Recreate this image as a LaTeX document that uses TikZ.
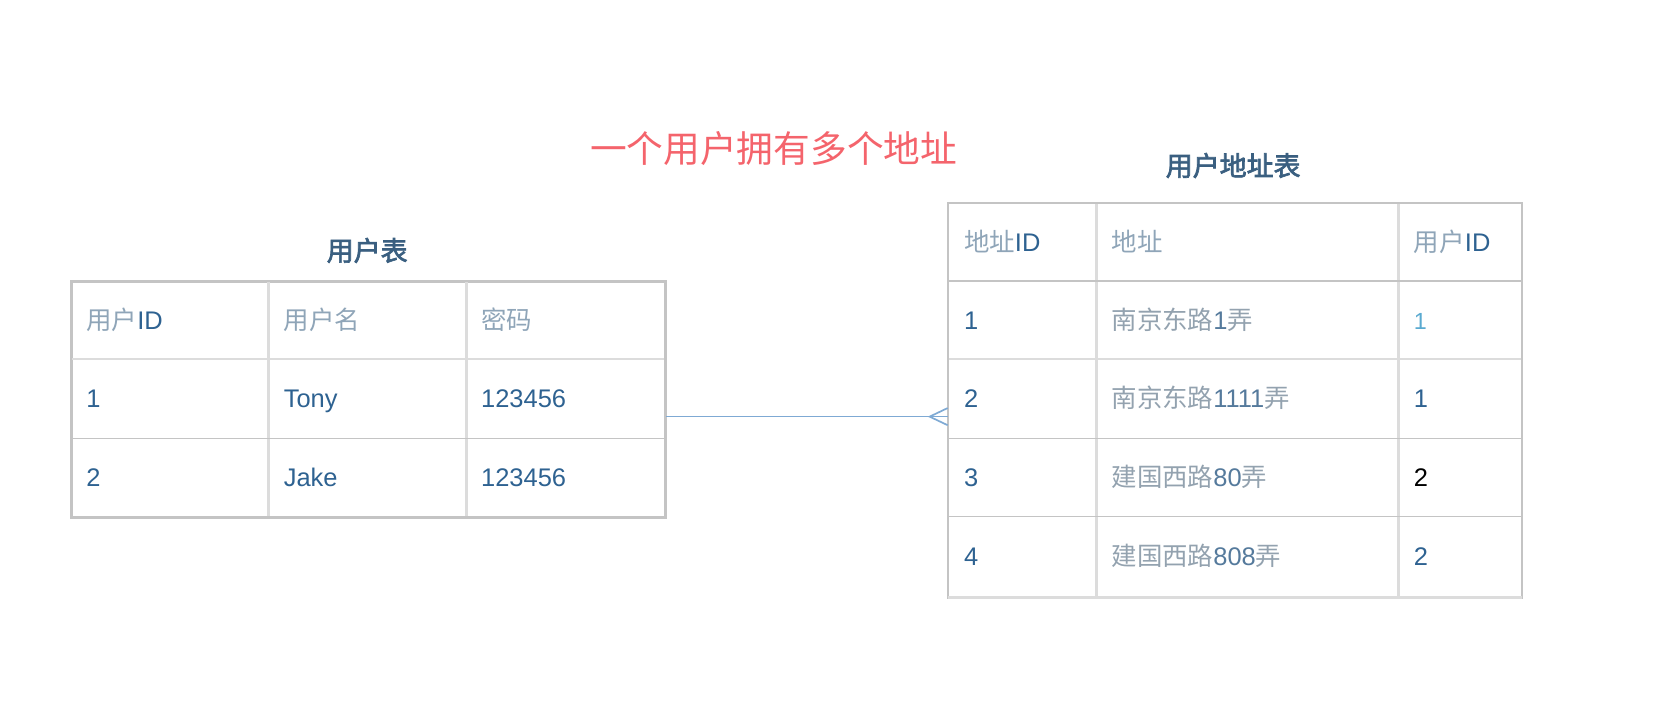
\documentclass[tikz,border=0pt]{standalone}
\usepackage{fontspec}
\setmainfont{Liberation Sans}
\newfontfamily\cjkfont[AutoFakeBold=2.5]{Noto Sans CJK SC}
\definecolor{dblue}{HTML}{2E6291}
\definecolor{hgray}{HTML}{8FA5B8}
\definecolor{agray}{HTML}{93A2AF}
\definecolor{adig}{HTML}{557A9C}
\definecolor{tblue}{HTML}{3A5F80}
\definecolor{teal1}{HTML}{5AAAD0}
\definecolor{redt}{HTML}{F4646C}
\definecolor{gridd}{HTML}{C4C4C4}
\definecolor{gridl}{HTML}{DCDCDC}
\definecolor{linkc}{HTML}{7FAAD4}
\newcommand{\zhg}[1]{{\cjkfont\color{hgray}#1}}
\newcommand{\zha}[1]{{\cjkfont\color{agray}#1}}
\begin{document}
\begin{tikzpicture}[x=0.5pt,y=-0.5pt,
  cell/.style={anchor=west,inner sep=0pt,text height=8.6pt,text depth=0pt,font=\fontsize{12}{14}\selectfont,text=dblue},
  ttl/.style={inner sep=0pt,font=\cjkfont\bfseries\fontsize{12.7}{15}\selectfont,text=tblue},
  tblbox/.style={draw=gridd,line width=0.8pt,anchor=north west,inner sep=0pt},
  gd/.style={draw=gridd,line width=0.8pt},
  gl/.style={draw=gridl,line width=1.3pt},
  link/.style={draw=linkc,line width=0.8pt}]
\useasboundingbox (0,0) rectangle (1568,678);
% title
\node[inner sep=0pt,font=\cjkfont\fontsize{17.3}{20}\selectfont,text=redt] (main) at (729,140) {一个用户拥有多个地址};
% ---------- left table
\node[ttl] (ut) at (346,236) {用户表};
\node[tblbox,minimum width=279.5pt,minimum height=110.95pt] (users) at (67,264.8) {};
\draw[gl] (253,264.8) -- (253,486.7);
\draw[gl] (439.5,264.8) -- (439.5,486.7);
\draw[gl] (67,338.3) -- (626,338.3);
\draw[gd] (67,413.2) -- (626,413.2);
\draw[gd] (users.north west) rectangle (users.south east);
\node[cell] (u00) at (81,301.5) {\zhg{用户}ID};
\node[cell] (u01) at (267,301.5) {\zhg{用户名}};
\node[cell] (u02) at (453,301.5) {\zhg{密码}};
\node[cell] (u10) at (81,375.8) {1};
\node[cell] (u11) at (267,375.8) {Tony};
\node[cell] (u12) at (453,375.8) {123456};
\node[cell] (u20) at (81,450) {2};
\node[cell] (u21) at (267,450) {Jake};
\node[cell] (u22) at (453,450) {123456};
% ---------- right table
\node[ttl] (at) at (1162,156) {用户地址表};
\node[tblbox,minimum width=270pt,minimum height=185.3pt] (addr) at (893,191) {};
\draw[gl] (1033,191) -- (1033,561.6);
\draw[gl] (1318,191) -- (1318,561.6);
\draw[gd] (893,264.8) -- (1433,264.8);
\draw[gl] (893,338.3) -- (1433,338.3);
\draw[gd] (893,413.2) -- (1433,413.2);
\draw[gd] (893,486.7) -- (1433,486.7);
\draw[gd] (addr.north west) rectangle (addr.south east);
\draw[gl] (addr.south west) -- (addr.south east);
\node[cell] (a00) at (908,228) {\zhg{地址}ID};
\node[cell] (a01) at (1047,228) {\zhg{地址}};
\node[cell] (a02) at (1332,228) {\zhg{用户}ID};
\node[cell] (a10) at (908,301.5) {1};
\node[cell,text=adig] (a11) at (1047,301.5) {\zha{南京东路}1\zha{弄}};
\node[cell,text=teal1,font=\fontsize{11}{13}\selectfont] (a12) at (1332,301.5) {1};
\node[cell] (a20) at (908,375.8) {2};
\node[cell,text=adig] (a21) at (1047,375.8) {\zha{南京东路}1111\zha{弄}};
\node[cell] (a22) at (1332,375.8) {1};
\node[cell] (a30) at (908,450) {3};
\node[cell,text=adig] (a31) at (1047,450) {\zha{建国西路}80\zha{弄}};
\node[cell,text=black] (a32) at (1332,450) {2};
\node[cell] (a40) at (908,524) {4};
\node[cell,text=adig] (a41) at (1047,524) {\zha{建国西路}808\zha{弄}};
\node[cell] (a42) at (1332,524) {2};
% ---------- connector (one to many)
\coordinate (ls) at (users.east |- 0,392.6);
\coordinate (le) at (addr.west |- 0,392.6);
\coordinate (cf) at (876,392.6);
\draw[link] (ls) -- (le);
\draw[link] (le |- 0,384.5) -- (cf) -- (le |- 0,400.7);
\end{tikzpicture}
\end{document}
